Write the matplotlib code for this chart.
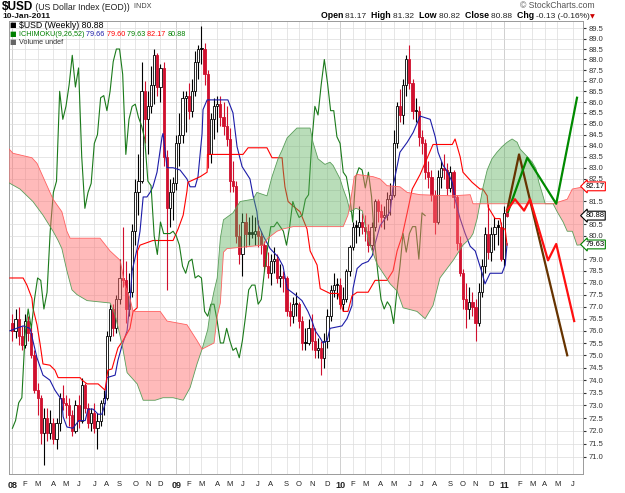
import numpy as np
import pandas as pd
import matplotlib
matplotlib.use("Agg")
import matplotlib.pyplot as plt
from matplotlib.ticker import FixedLocator, NullLocator, FuncFormatter
from matplotlib.transforms import blended_transform_factory

# weekly bars: bar 0 = week of 7-Jan-2008, bar 157 = 10-Jan-2011
opens = [76.3, 76.0, 76.5, 75.8, 75.4, 76.4, 75.9, 75.0, 73.6, 73.3,
         71.9, 72.5, 71.9, 72.3, 71.7, 72.3, 73.3, 73.1, 73.0, 72.6,
         72.0, 73.0, 72.4, 73.8, 72.9, 72.3, 72.7, 72.1, 72.4, 73.1,
         73.3, 75.8, 76.9, 76.1, 77.3, 78.2, 78.1, 76.9, 77.6, 80.2,
         81.9, 82.4, 86.5, 85.2, 85.8, 86.8, 88.2, 86.7, 87.6, 83.5,
         81.2, 81.9, 82.3, 84.1, 84.5, 86.2, 86.3, 85.6, 86.5, 87.9,
         88.5, 88.5, 87.3, 83.6, 85.2, 85.8, 85.9, 85.3, 84.9, 84.3,
         82.4, 82.2, 80.0, 79.2, 80.6, 80.1, 80.1, 80.1, 80.2, 80.0,
         79.6, 78.7, 78.4, 78.9, 79.0, 78.2, 78.3, 78.2, 76.8, 76.6,
         77.1, 77.1, 76.4, 75.5, 75.5, 76.1, 75.6, 75.2, 75.3, 74.9,
         75.6, 76.6, 77.7, 77.9, 77.9, 77.1, 77.3, 78.5, 79.5, 80.4,
         80.4, 80.6, 80.4, 80.2, 79.6, 80.4, 81.5, 81.1, 80.8, 80.9,
         81.6, 81.8, 84.1, 85.8, 85.4, 86.8, 88.0, 86.9, 85.6, 85.6,
         84.4, 84.1, 82.8, 82.6, 81.8, 80.6, 82.6, 83.0, 82.9, 82.1,
         82.8, 81.7, 79.7, 78.4, 77.3, 76.9, 77.2, 77.0, 76.3, 77.6,
         78.7, 80.1, 79.3, 80.1, 80.4, 80.4, 79.0, 81.17]
highs = [76.7, 76.9, 77.0, 76.2, 76.7, 76.6, 76.2, 75.2, 73.9, 73.4,
         72.9, 72.9, 72.8, 72.5, 72.5, 73.5, 73.8, 73.4, 73.3, 72.8,
         73.2, 73.4, 74.1, 73.9, 73.1, 72.9, 73.1, 72.7, 73.2, 73.6,
         76.0, 77.1, 77.1, 77.5, 79.0, 80.4, 78.9, 78.4, 80.5, 82.5,
         83.6, 87.9, 87.0, 86.5, 87.7, 88.5, 88.3, 87.8, 87.9, 83.8,
         82.5, 82.6, 84.5, 85.5, 86.5, 86.5, 86.9, 87.1, 88.4, 88.7,
         89.6, 88.8, 87.5, 85.5, 86.2, 86.3, 86.3, 86.0, 85.8, 84.8,
         83.3, 82.4, 80.5, 81.0, 81.0, 80.8, 80.9, 80.8, 80.7, 80.2,
         79.8, 79.3, 79.2, 79.5, 79.2, 78.8, 78.5, 78.3, 77.2, 77.4,
         77.6, 77.2, 76.6, 76.1, 76.5, 76.7, 76.1, 75.7, 75.6, 75.9,
         76.9, 77.9, 78.4, 78.2, 78.2, 77.8, 78.6, 79.6, 80.6, 80.7,
         81.3, 81.0, 80.9, 80.5, 80.6, 81.6, 81.6, 81.4, 81.3, 81.9,
         82.3, 84.7, 86.0, 86.6, 87.1, 88.2, 88.7, 87.1, 86.2, 85.8,
         84.7, 84.3, 83.3, 82.9, 82.0, 82.9, 83.3, 83.6, 83.2, 83.1,
         82.9, 81.8, 80.0, 78.6, 78.0, 77.8, 77.6, 77.3, 78.0, 79.0,
         80.4, 81.4, 80.4, 80.8, 80.7, 80.6, 81.3, 81.32]
lows = [75.6, 75.7, 75.4, 75.2, 75.3, 75.6, 74.9, 73.5, 72.6, 71.5,
        70.7, 71.6, 71.7, 71.5, 71.3, 72.0, 72.8, 72.5, 72.2, 71.8,
        71.9, 72.1, 72.3, 72.7, 72.1, 72.0, 71.9, 71.3, 72.2, 72.6,
        73.2, 75.6, 75.8, 75.9, 77.1, 77.8, 76.3, 76.6, 77.4, 79.6,
        80.9, 82.3, 84.1, 83.6, 85.5, 85.9, 86.3, 86.0, 83.1, 77.7,
        80.4, 80.7, 82.0, 83.1, 84.1, 84.6, 85.2, 85.3, 86.3, 87.1,
        87.8, 86.8, 83.0, 83.2, 84.3, 84.6, 84.9, 84.5, 84.0, 81.9,
        81.9, 79.7, 78.8, 78.3, 79.5, 79.6, 79.9, 79.6, 79.5, 79.2,
        78.5, 78.2, 77.9, 78.4, 78.0, 77.8, 77.6, 76.6, 76.2, 76.3,
        76.6, 76.1, 75.2, 75.2, 75.4, 75.2, 74.9, 74.9, 74.2, 74.5,
        75.3, 76.4, 77.4, 77.3, 76.9, 76.8, 77.2, 78.3, 79.4, 79.7,
        80.0, 80.1, 79.8, 79.3, 79.4, 80.2, 80.6, 80.4, 80.3, 80.7,
        80.9, 81.7, 83.9, 85.1, 85.0, 86.3, 86.6, 85.2, 85.1, 84.0,
        83.6, 82.5, 82.1, 81.5, 80.1, 80.5, 82.1, 82.5, 81.8, 81.9,
        81.2, 79.4, 78.3, 76.9, 76.1, 76.5, 76.6, 75.6, 76.2, 77.4,
        78.4, 79.0, 78.9, 79.4, 79.6, 78.9, 78.7, 80.82]
closes = [76.0, 76.5, 75.8, 75.4, 76.4, 75.9, 75.0, 73.6, 73.3, 71.9,
          72.5, 71.9, 72.3, 71.7, 72.3, 73.3, 73.1, 73.0, 72.6, 72.0,
          73.0, 72.4, 73.8, 72.9, 72.3, 72.7, 72.1, 72.4, 73.1, 73.3,
          75.8, 76.9, 76.1, 77.3, 78.2, 78.1, 76.9, 77.6, 80.2, 81.9,
          82.4, 86.5, 85.2, 85.8, 86.8, 88.2, 86.7, 87.6, 83.5, 81.2,
          81.9, 82.3, 84.1, 84.5, 86.2, 86.3, 85.6, 86.5, 87.9, 88.5,
          88.5, 87.3, 83.6, 85.2, 85.8, 85.9, 85.3, 84.9, 84.3, 82.4,
          82.2, 80.0, 79.2, 80.6, 80.1, 80.1, 80.1, 80.2, 80.0, 79.6,
          78.7, 78.4, 78.9, 79.0, 78.2, 78.3, 78.2, 76.8, 76.6, 77.1,
          77.1, 76.4, 75.5, 75.5, 76.1, 75.6, 75.2, 75.3, 74.9, 75.6,
          76.6, 77.7, 77.9, 77.9, 77.1, 77.3, 78.5, 79.5, 80.4, 80.4,
          80.6, 80.4, 80.2, 79.6, 80.4, 81.5, 81.1, 80.8, 80.9, 81.6,
          81.8, 84.1, 85.8, 85.4, 86.8, 88.0, 86.9, 85.6, 85.6, 84.4,
          84.1, 82.8, 82.6, 81.8, 80.6, 82.6, 83.0, 82.9, 82.1, 82.8,
          81.7, 79.7, 78.4, 77.3, 76.9, 77.2, 77.0, 76.3, 77.6, 78.7,
          80.1, 79.3, 80.1, 80.4, 80.4, 79.0, 81.0, 80.88]

# ichimoku lines as (week, value) vertices
tenkan_wk = [-0.8, 3.4, 5.6, 6.5, 7.8, 9.7, 11.9, 13.5, 15.7, 16.1, 17.3, 19.2, 21.1, 23.1,
             24.0, 25.6, 27.2, 28.4, 29.4, 30.0, 32.6, 33.5, 34.8, 36.4, 37.3, 38.0, 39.6,
             40.5, 41.5, 42.7, 43.7, 44.6, 45.9, 46.9, 47.5, 47.8, 49.1, 51.0, 53.2, 55.4,
             56.4, 58.0, 58.9, 60.2, 60.5, 61.8, 68.4, 70.0, 71.3, 72.9, 75.4, 76.4, 77.6,
             78.0, 79.6, 81.8, 84.3, 85.9, 87.2, 89.7, 91.9, 93.8, 95.1, 96.1, 97.7, 98.6,
             99.9, 100.8, 104.6, 106.2, 107.8, 108.1, 109.4, 111.0, 112.9, 114.2, 115.1,
             116.7, 118.3, 119.9, 120.8, 123.0, 125.3, 127.2, 129.4, 132.6, 134.2, 135.1,
             136.7, 138.0, 139.6, 140.5, 142.1, 143.7, 145.3, 146.9, 149.1, 150.0, 151.6,
             155.4, 156.4, 157.0]
tenkan_val = [76.0, 76.2, 76.1, 75.6, 74.9, 74.2, 74.0, 73.6, 73.2, 72.55, 72.15, 72.1, 72.4,
              72.4, 72.85, 72.85, 72.65, 72.65, 73.05, 74.1, 74.2, 74.8, 75.4, 76.0, 77.2,
              78.5, 79.45, 80.2, 81.7, 81.7, 81.9, 82.15, 82.8, 83.8, 84.4, 84.55, 83.0,
              83.0, 82.9, 82.5, 82.15, 82.15, 82.6, 84.55, 85.65, 86.1, 86.1, 85.5, 83.95,
              83.05, 82.5, 81.75, 81.05, 80.5, 80.0, 79.45, 79.1, 78.7, 77.75, 77.5, 77.25,
              76.8, 76.4, 76.0, 75.7, 75.5, 75.6, 76.1, 76.2, 76.5, 77.05, 77.75, 78.6, 78.8,
              78.9, 79.15, 79.65, 80.45, 80.75, 81.05, 82.15, 83.7, 84.15, 84.6, 85.35, 85.2,
              84.4, 83.7, 83.1, 82.85, 82.35, 81.6, 80.75, 80.1, 79.55, 79.35, 78.4, 77.95,
              78.4, 78.4, 78.75, 79.66]

kijun_wk = [-0.8, 3.4, 4.6, 6.2, 6.5, 7.8, 8.8, 9.7, 11.9, 13.5, 14.5, 21.5, 22.1, 23.7, 27.2,
            29.4, 30.3, 31.6, 32.6, 33.5, 35.1, 37.3, 38.3, 39.6, 39.7, 40.5, 44.6, 51.0,
            52.6, 54.2, 55.4, 55.7, 59.6, 61.8, 61.9, 73.2, 74.8, 80.8, 82.4, 85.6, 85.9,
            86.5, 87.5, 89.1, 91.3, 93.5, 94.5, 96.7, 97.7, 100.8, 103.4, 105.0, 106.5,
            107.8, 109.4, 112.9, 115.1, 118.9, 120.8, 122.1, 123.7, 125.3, 126.9, 129.4,
            133.5, 139.6, 140.5, 142.1, 143.0, 145.9, 148.4, 149.3, 150.7, 151.0, 153.2,
            154.8, 155.4, 156.4, 157.0]
kijun_val = [78.2, 78.2, 77.9, 77.35, 76.95, 76.25, 75.45, 74.65, 74.6, 74.4, 74.1, 74.1, 74.0,
             73.85, 73.85, 73.6, 74.4, 74.45, 74.9, 75.3, 75.6, 76.1, 76.8, 76.95, 79.35,
             79.6, 79.8, 79.8, 80.3, 80.9, 81.95, 82.35, 82.6, 82.8, 83.6, 83.6, 83.9, 83.9,
             83.45, 83.45, 82.95, 82.15, 81.5, 81.3, 81.05, 80.3, 79.35, 78.75, 77.75, 77.55,
             77.55, 76.8, 76.8, 77.45, 77.6, 77.6, 78.1, 78.1, 78.5, 79.35, 80.0, 81.0, 82.05,
             82.7, 84.05, 84.05, 84.3, 83.5, 82.8, 82.35, 82.05, 82.05, 81.75, 81.25, 80.75,
             80.75, 80.3, 80.3, 79.6]

span_a_wk = [-1.4, 2.4, 6.5, 9.7, 12.9, 14.5, 15.7, 17.3, 18.9, 20.5, 23.7, 31.0, 32.6, 34.8,
             36.4, 39.6, 41.5, 45.3, 47.8, 51.0, 54.2, 56.4, 58.6, 60.2, 62.0, 63.0, 64.0,
             65.0, 66.0, 67.0, 70.0, 72.3, 76.4, 77.6, 80.8, 82.4, 84.3, 85.6, 87.2, 90.3,
             94.5, 95.4, 97.0, 99.2, 100.8, 101.8, 104.0, 105.0, 106.2, 107.2, 109.0, 111.0,
             113.0, 115.7, 119.9, 122.1, 124.0, 128.4, 131.0, 133.5, 135.7, 139.9, 143.0,
             145.3, 146.2, 147.5, 149.4, 150.7, 152.2, 153.8, 155.4, 157.0, 158.6, 160.2,
             161.1, 163.4, 165.0, 166.2, 167.1, 168.4, 169.1, 171.6, 172.9, 174.8, 176.1,
             177.7, 179.2, 182.0]
span_a_val = [82.35, 82.05, 81.5, 80.9, 80.2, 79.8, 79.45, 78.5, 77.7, 77.5, 77.25, 77.15, 76.65,
              75.45, 74.3, 73.85, 73.2, 73.2, 73.3, 73.3, 73.2, 73.7, 74.65, 75.25, 76.05,
              77.0, 77.65, 78.2, 79.9, 80.7, 81.0, 81.5, 81.6, 81.9, 81.75, 82.6, 83.4, 83.8,
              84.35, 84.8, 84.8, 84.15, 83.4, 83.15, 83.25, 83.1, 82.5, 82.05, 81.6, 81.05,
              81.2, 81.1, 79.8, 78.8, 77.95, 77.65, 76.95, 76.8, 76.5, 77.05, 78.2, 78.95,
              79.6, 79.9, 80.1, 80.75, 82.15, 82.9, 83.4, 83.7, 83.95, 84.15, 84.3, 84.15,
              83.85, 83.5, 83.25, 82.95, 82.35, 81.75, 81.4, 81.4, 81.05, 80.6, 80.2, 80.2,
              79.6, 79.63]

span_b_wk = [-1.4, 0.2, 6.2, 7.8, 9.7, 12.9, 15.7, 17.3, 18.3, 27.8, 31.0, 34.2, 35.7, 37.3,
             38.3, 46.9, 49.1, 55.4, 58.6, 60.2, 64.0, 65.0, 66.0, 67.0, 68.1, 79.6, 81.1,
             84.0, 85.9, 89.1, 105.0, 106.5, 107.2, 108.5, 109.4, 114.5, 116.7, 118.9, 123.0,
             125.3, 129.4, 139.6, 145.3, 146.2, 171.6, 176.1, 177.7, 182.0]
span_b_val = [83.9, 83.65, 83.45, 83.2, 82.6, 81.6, 81.05, 80.2, 79.9, 79.9, 79.35, 78.95, 77.9,
              77.35, 76.8, 76.8, 76.4, 76.25, 75.6, 75.25, 75.5, 76.6, 77.15, 79.3, 79.45,
              79.6, 79.9, 80.2, 80.3, 80.4, 80.4, 80.9, 81.4, 82.6, 82.7, 82.6, 82.5, 82.2,
              82.15, 81.9, 81.8, 81.75, 81.8, 81.4, 81.4, 81.6, 82.05, 82.17]

# hand-drawn projections at the right edge
brown_wk = [157.0, 160.8, 176.1]
brown_val = [81.1, 83.6, 75.0]
green_wk = [157.3, 163.4, 172.6, 179.2]
green_val = [81.05, 83.45, 81.4, 86.2]
red_wk = [157.0, 159.5, 162.4, 164.3, 170.0, 172.6, 178.3]
red_val = [81.1, 81.6, 81.1, 81.6, 78.95, 79.65, 76.4]

price_ticks = np.arange(71.0, 89.51, 0.5)
hidden_ticks = [82.0, 81.0, 79.5]          # covered by the last-value boxes
month_letters = "JFMAMJJASOND"
last_values = [(82.17, "#ff0000"), (80.88, "#000000"), (79.63, "#008000")]

W, H = 625, 493
fig = plt.figure(figsize=(W / 100, H / 100), dpi=100)
fig.patch.set_facecolor("white")
ax = fig.add_axes([9 / W, 19 / H, 574 / W, 453 / H])
ax.set_yscale("log")
ax.set_xlim(-1.08, 181.1)
ax.set_ylim(70.34, 89.85)

wk = np.arange(len(closes))
o = np.array(opens)
c = np.array(closes)
hi = np.array(highs)
lo = np.array(lows)
prev = np.r_[o[0], c[:-1]]

# candles: black when up on the prior close, red when down; hollow when close > open
red = "#d0102e"
for i in wk:
    col = "black" if c[i] >= prev[i] else red
    ax.vlines(i, lo[i], hi[i], color=col, lw=0.8, zorder=3)
    body_lo, body_hi = min(o[i], c[i]), max(o[i], c[i])
    if body_hi - body_lo < 0.05:
        body_hi = body_lo + 0.05
    face = "white" if c[i] > o[i] else col
    ax.bar(i, body_hi - body_lo, bottom=body_lo, width=0.7, color=face,
           edgecolor=col, linewidth=0.6, zorder=3)

ax.plot(tenkan_wk, tenkan_val, color="#1c1ca8", lw=0.8, zorder=4)
ax.plot(kijun_wk, kijun_val, color="#ff0000", lw=0.8, zorder=4)
ax.plot(wk[:-26], c[26:], color="#1b7a1b", lw=0.8, zorder=4)

# cloud
grid = np.linspace(-1.4, 182.0, 1400)
sa = np.interp(grid, span_a_wk, span_a_val)
sb = np.interp(grid, span_b_wk, span_b_val)
ax.fill_between(grid, sa, sb, where=sa >= sb, interpolate=True,
                color="#5aae5a", alpha=0.42, lw=0, zorder=5)
ax.fill_between(grid, sa, sb, where=sa < sb, interpolate=True,
                color="#ff6f6f", alpha=0.48, lw=0, zorder=5)
ax.plot(span_a_wk, span_a_val, color="#5a9e5a", lw=0.6, zorder=5)
ax.plot(span_b_wk, span_b_val, color="#ff6060", lw=0.6, zorder=5)

ax.plot(brown_wk, brown_val, color="#663300", lw=1.6, zorder=6)
ax.plot(green_wk, green_val, color="#008a00", lw=1.6, zorder=6)
ax.plot(red_wk, red_val, color="#ff1010", lw=1.6, zorder=6)

# axes, grid, ticks
ax.yaxis.set_major_locator(FixedLocator(price_ticks))
ax.yaxis.set_minor_locator(NullLocator())
ax.yaxis.set_major_formatter(FuncFormatter(
    lambda v, _: "" if any(abs(v - h) < 1e-6 for h in hidden_ticks) else f"{v:.1f}"))
ax.yaxis.tick_right()
ax.tick_params(axis="y", labelsize=5.5, length=2, pad=2, colors="#333333")

base = pd.Timestamp("2008-01-07")
months = pd.date_range("2008-01-01", "2011-07-01", freq="MS")
month_wk = [int(np.ceil((m - base).days / 7)) for m in months]
month_lab = [m.strftime("%y") if m.month == 1 else month_letters[m.month - 1] for m in months]
ax.xaxis.set_major_locator(FixedLocator(month_wk))
ax.xaxis.set_minor_locator(NullLocator())
ax.set_xticklabels(month_lab)
ax.tick_params(axis="x", labelsize=5.5, length=0, pad=5, colors="#222222")
for lab, m in zip(ax.get_xticklabels(), months):
    lab.set_fontfamily("Liberation Sans")
    if m.month == 1:
        lab.set_fontweight("bold")
        lab.set_fontsize(6.5)
for lab in ax.get_yticklabels():
    lab.set_fontfamily("Liberation Sans")

ax.grid(True, color="#dcdcdc", lw=0.5, zorder=0)
for m, w in zip(months, month_wk):
    if m.month == 1:
        ax.axvline(w, color="#a8a8a8", lw=0.6, zorder=0)
for s in ax.spines.values():
    s.set_color("#9a9a9a")
    s.set_linewidth(0.7)

tr = blended_transform_factory(ax.transAxes, ax.transData)
for val, col in last_values:
    ax.text(1.004, val, f"{val:.2f}", transform=tr, fontsize=5.5, va="center", ha="left",
            family="Liberation Sans", zorder=10, clip_on=False,
            bbox=dict(boxstyle="larrow,pad=0.12", fc="white", ec=col, lw=0.8))

# header and legend text, laid out piece by piece in pixel units
renderer = fig.canvas.get_renderer()


def row(x, y, parts, align="left"):
    items = []
    for txt, col, wt, size in parts:
        t = fig.text(0, 1 - y / H, txt, color=col, fontweight=wt, fontsize=size,
                     family="Liberation Sans", va="center", ha="left")
        items.append((t, t.get_window_extent(renderer=renderer).width))
    total = sum(wd for _, wd in items)
    cur = x - total if align == "right" else x
    for t, wd in items:
        t.set_x(cur / W)
        cur += wd


row(2, 7, [("$USD", "black", "bold", 8.5), (" (US Dollar Index (EOD))", "#222222", "normal", 6.3),
           ("  INDX", "#444444", "normal", 5.2)])
row(2, 16, [("10-Jan-2011", "#111111", "bold", 6)])
row(595, 6, [("\u00a9 StockCharts.com", "#555555", "normal", 6.2)], align="right")
row(590, 16, [("Open ", "black", "bold", 6.3), ("81.17  ", "#222222", "normal", 6),
              ("High ", "black", "bold", 6.3), ("81.32  ", "#222222", "normal", 6),
              ("Low ", "black", "bold", 6.3), ("80.82  ", "#222222", "normal", 6),
              ("Close ", "black", "bold", 6.3), ("80.88  ", "#222222", "normal", 6),
              ("Chg ", "black", "bold", 6.3), ("-0.13 (-0.16%)", "#222222", "normal", 6)],
    align="right")
fig.text(592 / W, 1 - 16.5 / H, "\u25bc", color="#cc0000", fontsize=4.5, ha="center", va="center")

row(19, 25, [("$USD (Weekly) 80.88", "black", "normal", 6.3)])
row(19, 34, [("ICHIMOKU(9,26,52) ", "#008000", "normal", 5.2), ("79.66 ", "#1c1ca8", "normal", 5.2),
             ("79.60 ", "#ff0000", "normal", 5.2), ("79.63 ", "#008000", "normal", 5.2),
             ("82.17 ", "#ff0000", "normal", 5.2), ("80.88", "#008000", "normal", 5.2)])
row(19, 42, [("Volume undef", "#333333", "normal", 5.2)])
fig.text(13 / W, 1 - 25 / H, "\u25a0", color="black", fontsize=5, ha="center", va="center")
fig.text(13 / W, 1 - 34 / H, "\u25a0", color="#008000", fontsize=5, ha="center", va="center")
fig.text(13 / W, 1 - 42 / H, "\u25a0", color="#666666", fontsize=5, ha="center", va="center")

fig.savefig("out.png", dpi=100, facecolor="white")
